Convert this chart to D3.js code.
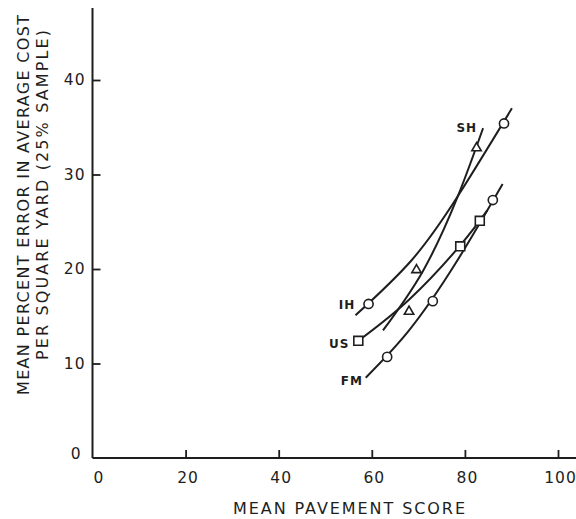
<!DOCTYPE html>
<html>
<head>
<meta charset="utf-8">
<script src="https://cdn.jsdelivr.net/npm/d3@7"></script>
<style>
  html, body { margin: 0; padding: 0; background: #fff; }
  svg { display: block; }
  text { font-family: "DejaVu Sans", sans-serif; fill: #1e1e1e; }
</style>
</head>
<body>
<svg id="chart" width="576" height="519"></svg>
<script>
// Axis ticks
const xTicks = [0, 20, 40, 60, 80, 100];
const yTicks = [0, 10, 20, 30, 40];

// Measured points per highway class: [mean pavement score, mean % error]
const ihPoints = [[59.3, 16.3], [88.4, 35.4]];
const shPoints = [[82.5, 32.8], [69.6, 19.9], [68.0, 15.5]];
const usPoints = [[57.1, 12.4], [79.0, 22.4], [83.2, 25.1]];
const fmPoints = [[63.3, 10.7], [73.1, 16.6], [86.0, 27.3]];

// Fitted trend curves
const ihCurve = [[56.5, 15.1], [68.5, 20.9], [78.6, 27.8], [90.1, 37.0]];
const shCurve = [[62.4, 13.5], [71.0, 19.8], [78.4, 27.6], [83.9, 34.9]];
const usCurve = [[57.1, 12.4], [68.1, 16.8], [79.0, 22.5], [84.8, 26.2]];
const fmCurve = [[58.7, 8.5], [68.0, 13.5], [78.0, 20.6], [88.1, 29.0]];

// Series names and where their tags sit
const seriesNames = ["IH", "SH", "US", "FM"];
const tagPositions = [[54.7, 16.2], [80.4, 35.0], [53.0, 12.1], [55.7, 8.2]];

const ink = "#1e1e1e";
const svg = d3.select("#chart");

const x = d3.scaleLinear().domain([0, 100]).range([92.5, 558]);
const y = d3.scaleLinear().domain([0, 40]).range([458, 80]);

// Axis lines run past the last tick
svg.append("line")
  .attr("x1", x(0)).attr("x2", 576)
  .attr("y1", y(0)).attr("y2", y(0))
  .attr("stroke", ink).attr("stroke-width", 2);
svg.append("line")
  .attr("x1", x(0)).attr("x2", x(0))
  .attr("y1", y(0)).attr("y2", 8)
  .attr("stroke", ink).attr("stroke-width", 2);

// Bottom axis: inward ticks
const gx = svg.append("g")
  .attr("transform", `translate(0,${y(0)})`)
  .call(d3.axisBottom(x).tickValues(xTicks).tickSize(-8).tickPadding(14).tickFormat(d3.format("d")));
gx.select(".domain").remove();
gx.selectAll(".tick line").attr("stroke", ink).attr("stroke-width", 1.8)
  .filter(d => d === 0).remove();
gx.selectAll(".tick text")
  .attr("font-size", 15.5).attr("fill", ink)
  .attr("font-family", "DejaVu Sans, sans-serif")
  .attr("letter-spacing", 1)
  .attr("dx", d => d === 0 ? 6 : 2);

// Left axis: inward ticks
const gy = svg.append("g")
  .attr("transform", `translate(${x(0)},0)`)
  .call(d3.axisLeft(y).tickValues(yTicks).tickSize(-8).tickPadding(7).tickFormat(d3.format("d")));
gy.select(".domain").remove();
gy.selectAll(".tick line").attr("stroke", ink).attr("stroke-width", 1.8)
  .filter(d => d === 0).remove();
gy.selectAll(".tick text")
  .attr("font-size", 15.5).attr("fill", ink)
  .attr("font-family", "DejaVu Sans, sans-serif")
  .attr("letter-spacing", 1)
  .attr("dx", d => d === 0 ? -4 : 0)
  .attr("dy", d => d === 0 ? "0.05em" : "0.32em");

// Axis titles
svg.append("text")
  .attr("x", 349).attr("y", 514)
  .attr("text-anchor", "middle")
  .attr("font-size", 16)
  .attr("textLength", 232).attr("lengthAdjust", "spacing")
  .text("MEAN PAVEMENT SCORE");

const yTitle = svg.append("g").attr("transform", "rotate(-90)");
yTitle.append("text")
  .attr("x", -205).attr("y", 29)
  .attr("text-anchor", "middle")
  .attr("font-size", 16)
  .attr("textLength", 380).attr("lengthAdjust", "spacing")
  .text("MEAN PERCENT ERROR IN AVERAGE COST");
yTitle.append("text")
  .attr("x", -195).attr("y", 48)
  .attr("text-anchor", "middle")
  .attr("font-size", 16)
  .attr("textLength", 330).attr("lengthAdjust", "spacing")
  .text("PER SQUARE YARD (25% SAMPLE)");

// Trend curves
const line = d3.line()
  .x(d => x(d[0])).y(d => y(d[1]))
  .curve(d3.curveNatural);
const curves = [ihCurve, shCurve, usCurve, fmCurve];
svg.append("g").selectAll("path")
  .data(curves).join("path")
  .attr("d", line)
  .attr("fill", "none")
  .attr("stroke", ink)
  .attr("stroke-width", 2);

// Markers
const markerGroups = [
  { pts: ihPoints, type: d3.symbolCircle, size: 66 },
  { pts: shPoints, type: d3.symbolTriangle, size: 38 },
  { pts: usPoints, type: d3.symbolSquare, size: 80 },
  { pts: fmPoints, type: d3.symbolCircle, size: 66 }
];
markerGroups.forEach(g => {
  svg.append("g").selectAll("path")
    .data(g.pts).join("path")
    .attr("transform", d => `translate(${x(d[0])},${y(d[1])})`)
    .attr("d", d3.symbol().type(g.type).size(g.size))
    .attr("fill", "#fff")
    .attr("stroke", ink)
    .attr("stroke-width", 1.6);
});

// Series tags
svg.append("g").selectAll("text")
  .data(seriesNames).join("text")
  .attr("x", (d, i) => x(tagPositions[i][0]))
  .attr("y", (d, i) => y(tagPositions[i][1]))
  .attr("dy", "0.36em")
  .attr("text-anchor", "middle")
  .attr("font-size", 12)
  .attr("font-weight", "bold")
  .attr("letter-spacing", 1)
  .text(d => d);
</script>
</body>
</html>
